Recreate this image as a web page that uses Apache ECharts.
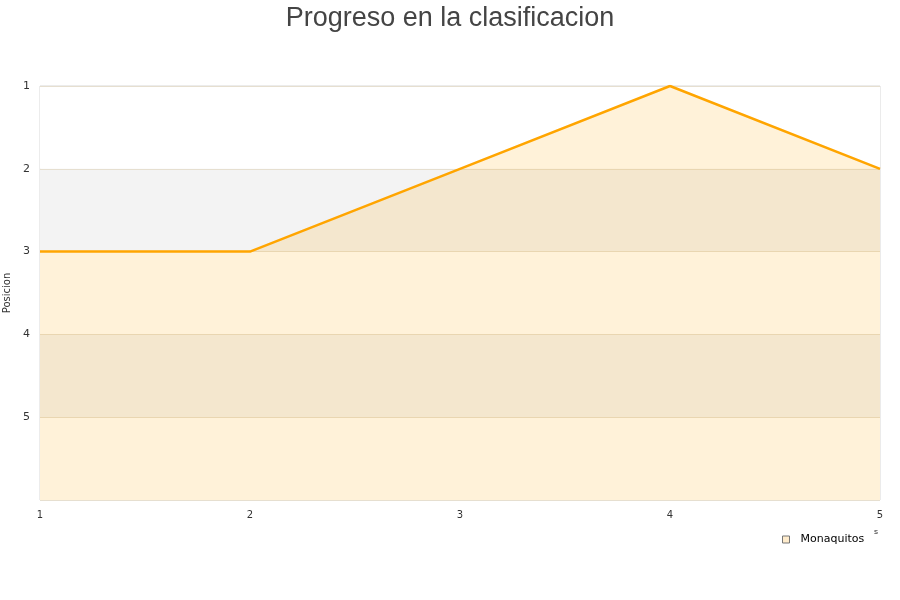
<!DOCTYPE html>
<html><head><meta charset="utf-8">
<script src="https://cdn.jsdelivr.net/npm/echarts@6/dist/echarts.min.js"></script>
<style>html,body{margin:0;padding:0;background:#fff}#c{width:900px;height:600px}</style>
</head><body><div id="c"></div>
<script>
var jornadas = [1, 2, 3, 4, 5];
var monaquitos = [3, 3, 2, 1, 2];
var yTicks = [1, 2, 3, 4, 5];
var chart = echarts.init(document.getElementById('c'));
chart.setOption({
  animation: false,
  title: {text: 'Progreso en la clasificacion', left: 'center', top: 0,
    textStyle: {fontFamily: 'Liberation Sans', fontSize: 27, fontWeight: 'normal', color: '#444'}},
  grid: {left: 40, right: 20, top: 86, bottom: 100, show: true, borderColor: '#d8d8d8', borderWidth: 1,
    outerBoundsMode: 'none', containLabel: false},
  legend: {data: [{name: 'Monaquitos', itemStyle: {color: '#ffeccc', borderColor: '#777', borderWidth: 1}}],
    left: 777, top: 529, icon: 'rect', itemWidth: 7, itemHeight: 7, itemGap: 8,
    textStyle: {fontFamily: 'DejaVu Sans', fontSize: 11, color: '#000', padding: [0, 0, 0, 6]}},
  xAxis: {type: 'value', min: 1, max: 5, interval: 1,
    axisLine: {show: false}, axisTick: {show: false}, splitLine: {show: false},
    axisLabel: {fontFamily: 'DejaVu Sans', fontSize: 10, color: '#333', margin: 10},
    name: 's', nameLocation: 'end', nameGap: 0,
    nameTextStyle: {fontSize: 8, color: '#333', padding: [28, 0, 0, -6], verticalAlign: 'top'}},
  yAxis: {type: 'value', inverse: true, min: 1, max: 6, interval: 1,
    axisLine: {show: false}, axisTick: {show: false},
    splitLine: {show: true, lineStyle: {color: '#e6dfd0'}},
    splitArea: {show: true, areaStyle: {color: ['#ffffff', '#f3f3f3']}},
    axisLabel: {fontFamily: 'DejaVu Sans', fontSize: 11, color: '#333', margin: 10,
      formatter: function (v) { return yTicks.indexOf(v) >= 0 ? String(v) : ''; }},
    name: 'Posicion', nameLocation: 'middle', nameGap: 22,
    nameTextStyle: {fontFamily: 'DejaVu Sans', fontSize: 10, color: '#333'}},
  series: [{name: 'Monaquitos', type: 'line',
    data: jornadas.map(function (x, i) { return [x, monaquitos[i]]; }),
    showSymbol: false, symbol: 'none',
    lineStyle: {color: '#ffa500', width: 2.5},
    itemStyle: {color: '#ffeccc'},
    areaStyle: {color: 'rgba(255,165,0,0.21)', origin: 'end'}}]
});
</script></body></html>
